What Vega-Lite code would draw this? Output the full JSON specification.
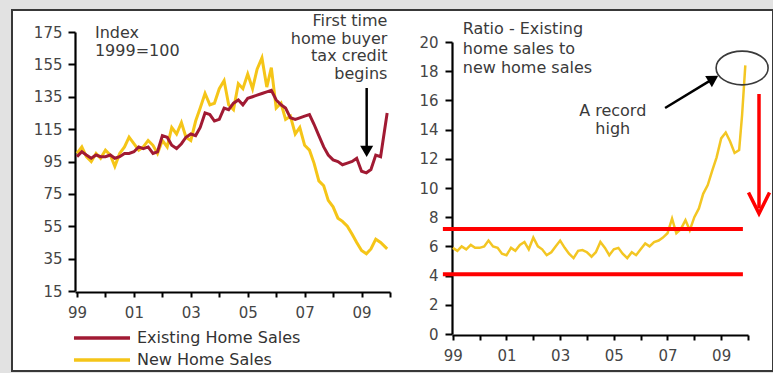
{
  "$schema": "https://vega.github.io/schema/vega-lite/v6.json",
  "width": 773,
  "height": 373,
  "autosize": {"type": "fit", "contains": "padding"},
  "padding": {"left": 12, "top": 10, "right": 0, "bottom": 2},
  "background": "#e2e2e2",
  "config": {
    "font": "DejaVu Sans",
    "view": {"stroke": "#383838", "strokeWidth": 2, "fill": "#ffffff"},
    "axis": {
      "domainColor": "#000000",
      "domainWidth": 2.2,
      "tickColor": "#000000",
      "tickWidth": 2,
      "labelColor": "#454545",
      "labelFontSize": 15,
      "labelFont": "DejaVu Sans",
      "grid": false,
      "labelFlush": false,
      "labelOverlap": false
    }
  },
  "datasets": {
    "index": [
      {"t": 1999.00, "s": "Existing Home Sales", "v": 98},
      {"t": 1999.17, "s": "Existing Home Sales", "v": 101},
      {"t": 1999.33, "s": "Existing Home Sales", "v": 99},
      {"t": 1999.50, "s": "Existing Home Sales", "v": 97},
      {"t": 1999.67, "s": "Existing Home Sales", "v": 99},
      {"t": 1999.83, "s": "Existing Home Sales", "v": 98},
      {"t": 2000.00, "s": "Existing Home Sales", "v": 98},
      {"t": 2000.17, "s": "Existing Home Sales", "v": 99},
      {"t": 2000.33, "s": "Existing Home Sales", "v": 97},
      {"t": 2000.50, "s": "Existing Home Sales", "v": 98},
      {"t": 2000.67, "s": "Existing Home Sales", "v": 100},
      {"t": 2000.83, "s": "Existing Home Sales", "v": 100},
      {"t": 2001.00, "s": "Existing Home Sales", "v": 101},
      {"t": 2001.17, "s": "Existing Home Sales", "v": 104},
      {"t": 2001.33, "s": "Existing Home Sales", "v": 103},
      {"t": 2001.50, "s": "Existing Home Sales", "v": 104},
      {"t": 2001.67, "s": "Existing Home Sales", "v": 100},
      {"t": 2001.83, "s": "Existing Home Sales", "v": 101},
      {"t": 2002.00, "s": "Existing Home Sales", "v": 111},
      {"t": 2002.17, "s": "Existing Home Sales", "v": 110},
      {"t": 2002.33, "s": "Existing Home Sales", "v": 105},
      {"t": 2002.50, "s": "Existing Home Sales", "v": 103},
      {"t": 2002.67, "s": "Existing Home Sales", "v": 106},
      {"t": 2002.83, "s": "Existing Home Sales", "v": 110},
      {"t": 2003.00, "s": "Existing Home Sales", "v": 112},
      {"t": 2003.17, "s": "Existing Home Sales", "v": 111},
      {"t": 2003.33, "s": "Existing Home Sales", "v": 116},
      {"t": 2003.50, "s": "Existing Home Sales", "v": 125},
      {"t": 2003.67, "s": "Existing Home Sales", "v": 124},
      {"t": 2003.83, "s": "Existing Home Sales", "v": 120},
      {"t": 2004.00, "s": "Existing Home Sales", "v": 121},
      {"t": 2004.17, "s": "Existing Home Sales", "v": 128},
      {"t": 2004.33, "s": "Existing Home Sales", "v": 127},
      {"t": 2004.50, "s": "Existing Home Sales", "v": 131},
      {"t": 2004.67, "s": "Existing Home Sales", "v": 133},
      {"t": 2004.83, "s": "Existing Home Sales", "v": 130},
      {"t": 2005.00, "s": "Existing Home Sales", "v": 134},
      {"t": 2005.17, "s": "Existing Home Sales", "v": 135},
      {"t": 2005.33, "s": "Existing Home Sales", "v": 136},
      {"t": 2005.50, "s": "Existing Home Sales", "v": 137},
      {"t": 2005.67, "s": "Existing Home Sales", "v": 138},
      {"t": 2005.83, "s": "Existing Home Sales", "v": 139},
      {"t": 2006.00, "s": "Existing Home Sales", "v": 133},
      {"t": 2006.17, "s": "Existing Home Sales", "v": 130},
      {"t": 2006.33, "s": "Existing Home Sales", "v": 128},
      {"t": 2006.50, "s": "Existing Home Sales", "v": 122},
      {"t": 2006.67, "s": "Existing Home Sales", "v": 121},
      {"t": 2006.83, "s": "Existing Home Sales", "v": 122},
      {"t": 2007.00, "s": "Existing Home Sales", "v": 123},
      {"t": 2007.17, "s": "Existing Home Sales", "v": 124},
      {"t": 2007.33, "s": "Existing Home Sales", "v": 118},
      {"t": 2007.50, "s": "Existing Home Sales", "v": 111},
      {"t": 2007.67, "s": "Existing Home Sales", "v": 104},
      {"t": 2007.83, "s": "Existing Home Sales", "v": 99},
      {"t": 2008.00, "s": "Existing Home Sales", "v": 96},
      {"t": 2008.17, "s": "Existing Home Sales", "v": 95},
      {"t": 2008.33, "s": "Existing Home Sales", "v": 93},
      {"t": 2008.50, "s": "Existing Home Sales", "v": 94},
      {"t": 2008.67, "s": "Existing Home Sales", "v": 95},
      {"t": 2008.83, "s": "Existing Home Sales", "v": 97},
      {"t": 2009.00, "s": "Existing Home Sales", "v": 89},
      {"t": 2009.17, "s": "Existing Home Sales", "v": 88},
      {"t": 2009.33, "s": "Existing Home Sales", "v": 90},
      {"t": 2009.50, "s": "Existing Home Sales", "v": 99},
      {"t": 2009.67, "s": "Existing Home Sales", "v": 98},
      {"t": 2009.90, "s": "Existing Home Sales", "v": 125},
      {"t": 1999.00, "s": "New Home Sales", "v": 100},
      {"t": 1999.17, "s": "New Home Sales", "v": 104},
      {"t": 1999.33, "s": "New Home Sales", "v": 98},
      {"t": 1999.50, "s": "New Home Sales", "v": 95},
      {"t": 1999.67, "s": "New Home Sales", "v": 100},
      {"t": 1999.83, "s": "New Home Sales", "v": 97},
      {"t": 2000.00, "s": "New Home Sales", "v": 102},
      {"t": 2000.17, "s": "New Home Sales", "v": 99},
      {"t": 2000.33, "s": "New Home Sales", "v": 92},
      {"t": 2000.50, "s": "New Home Sales", "v": 100},
      {"t": 2000.67, "s": "New Home Sales", "v": 104},
      {"t": 2000.83, "s": "New Home Sales", "v": 110},
      {"t": 2001.00, "s": "New Home Sales", "v": 106},
      {"t": 2001.17, "s": "New Home Sales", "v": 102},
      {"t": 2001.33, "s": "New Home Sales", "v": 104},
      {"t": 2001.50, "s": "New Home Sales", "v": 108},
      {"t": 2001.67, "s": "New Home Sales", "v": 105},
      {"t": 2001.83, "s": "New Home Sales", "v": 100},
      {"t": 2002.00, "s": "New Home Sales", "v": 108},
      {"t": 2002.17, "s": "New Home Sales", "v": 104},
      {"t": 2002.33, "s": "New Home Sales", "v": 116},
      {"t": 2002.50, "s": "New Home Sales", "v": 112},
      {"t": 2002.67, "s": "New Home Sales", "v": 119},
      {"t": 2002.83, "s": "New Home Sales", "v": 110},
      {"t": 2003.00, "s": "New Home Sales", "v": 108},
      {"t": 2003.17, "s": "New Home Sales", "v": 120},
      {"t": 2003.33, "s": "New Home Sales", "v": 128},
      {"t": 2003.50, "s": "New Home Sales", "v": 137},
      {"t": 2003.67, "s": "New Home Sales", "v": 130},
      {"t": 2003.83, "s": "New Home Sales", "v": 131},
      {"t": 2004.00, "s": "New Home Sales", "v": 140},
      {"t": 2004.17, "s": "New Home Sales", "v": 145},
      {"t": 2004.33, "s": "New Home Sales", "v": 130},
      {"t": 2004.50, "s": "New Home Sales", "v": 127},
      {"t": 2004.67, "s": "New Home Sales", "v": 143},
      {"t": 2004.83, "s": "New Home Sales", "v": 140},
      {"t": 2005.00, "s": "New Home Sales", "v": 149},
      {"t": 2005.17, "s": "New Home Sales", "v": 140},
      {"t": 2005.33, "s": "New Home Sales", "v": 152},
      {"t": 2005.50, "s": "New Home Sales", "v": 159},
      {"t": 2005.67, "s": "New Home Sales", "v": 141},
      {"t": 2005.83, "s": "New Home Sales", "v": 153},
      {"t": 2006.00, "s": "New Home Sales", "v": 128},
      {"t": 2006.17, "s": "New Home Sales", "v": 131},
      {"t": 2006.33, "s": "New Home Sales", "v": 121},
      {"t": 2006.50, "s": "New Home Sales", "v": 123},
      {"t": 2006.67, "s": "New Home Sales", "v": 112},
      {"t": 2006.83, "s": "New Home Sales", "v": 116},
      {"t": 2007.00, "s": "New Home Sales", "v": 105},
      {"t": 2007.17, "s": "New Home Sales", "v": 102},
      {"t": 2007.33, "s": "New Home Sales", "v": 94},
      {"t": 2007.50, "s": "New Home Sales", "v": 83},
      {"t": 2007.67, "s": "New Home Sales", "v": 80},
      {"t": 2007.83, "s": "New Home Sales", "v": 71},
      {"t": 2008.00, "s": "New Home Sales", "v": 67},
      {"t": 2008.17, "s": "New Home Sales", "v": 60},
      {"t": 2008.33, "s": "New Home Sales", "v": 58},
      {"t": 2008.50, "s": "New Home Sales", "v": 55},
      {"t": 2008.67, "s": "New Home Sales", "v": 50},
      {"t": 2008.83, "s": "New Home Sales", "v": 45},
      {"t": 2009.00, "s": "New Home Sales", "v": 40},
      {"t": 2009.17, "s": "New Home Sales", "v": 38},
      {"t": 2009.33, "s": "New Home Sales", "v": 41},
      {"t": 2009.50, "s": "New Home Sales", "v": 47},
      {"t": 2009.67, "s": "New Home Sales", "v": 45},
      {"t": 2009.90, "s": "New Home Sales", "v": 41}
    ],
    "ratio": [
      {"t": 1999.00, "v": 5.9}, {"t": 1999.17, "v": 5.7}, {"t": 1999.33, "v": 6.0},
      {"t": 1999.50, "v": 5.8}, {"t": 1999.67, "v": 6.1}, {"t": 1999.83, "v": 5.9},
      {"t": 2000.00, "v": 5.9}, {"t": 2000.17, "v": 6.0}, {"t": 2000.33, "v": 6.4},
      {"t": 2000.50, "v": 6.0}, {"t": 2000.67, "v": 5.9}, {"t": 2000.83, "v": 5.5},
      {"t": 2001.00, "v": 5.4}, {"t": 2001.17, "v": 5.9}, {"t": 2001.33, "v": 5.7},
      {"t": 2001.50, "v": 6.1}, {"t": 2001.67, "v": 6.3}, {"t": 2001.83, "v": 5.8},
      {"t": 2002.00, "v": 6.6}, {"t": 2002.17, "v": 6.0}, {"t": 2002.33, "v": 5.8},
      {"t": 2002.50, "v": 5.4}, {"t": 2002.67, "v": 5.6}, {"t": 2002.83, "v": 6.0},
      {"t": 2003.00, "v": 6.4}, {"t": 2003.17, "v": 5.9}, {"t": 2003.33, "v": 5.5},
      {"t": 2003.50, "v": 5.2}, {"t": 2003.67, "v": 5.7}, {"t": 2003.83, "v": 5.75},
      {"t": 2004.00, "v": 5.6}, {"t": 2004.17, "v": 5.3}, {"t": 2004.33, "v": 5.6},
      {"t": 2004.50, "v": 6.3}, {"t": 2004.67, "v": 5.9}, {"t": 2004.83, "v": 5.4},
      {"t": 2005.00, "v": 5.8}, {"t": 2005.17, "v": 5.9}, {"t": 2005.33, "v": 5.5},
      {"t": 2005.50, "v": 5.2}, {"t": 2005.67, "v": 5.6}, {"t": 2005.83, "v": 5.4},
      {"t": 2006.00, "v": 5.8}, {"t": 2006.17, "v": 6.2}, {"t": 2006.33, "v": 6.0},
      {"t": 2006.50, "v": 6.3}, {"t": 2006.67, "v": 6.4}, {"t": 2006.83, "v": 6.6},
      {"t": 2007.00, "v": 6.9}, {"t": 2007.17, "v": 7.9}, {"t": 2007.33, "v": 6.9},
      {"t": 2007.50, "v": 7.2}, {"t": 2007.67, "v": 7.8}, {"t": 2007.83, "v": 7.1},
      {"t": 2008.00, "v": 8.0}, {"t": 2008.17, "v": 8.6}, {"t": 2008.33, "v": 9.6},
      {"t": 2008.50, "v": 10.2}, {"t": 2008.67, "v": 11.2}, {"t": 2008.83, "v": 12.1},
      {"t": 2009.00, "v": 13.4}, {"t": 2009.17, "v": 13.8}, {"t": 2009.33, "v": 13.2},
      {"t": 2009.50, "v": 12.4}, {"t": 2009.67, "v": 12.6}, {"t": 2009.78, "v": 15.0},
      {"t": 2009.90, "v": 18.4}
    ]
  },
  "layer": [
    {
      "encoding": {
        "x": {
          "field": "t",
          "type": "quantitative",
          "scale": {"domain": [1998.93, 2010], "range": [63, 378], "nice": false, "zero": false},
          "axis": {
            "title": null,
            "orient": "bottom",
            "offset": -79,
            "values": [1999, 2000, 2001, 2002, 2003, 2004, 2005, 2006, 2007, 2008, 2009, 2010],
            "labelExpr": "datum.value % 2 == 1 ? substring(toString(datum.value), 2, 4) : ''",
            "tickSize": 5,
            "labelPadding": 8
          }
        },
        "y": {
          "field": "v",
          "type": "quantitative",
          "scale": {"domain": [15, 175], "range": [281, 22], "nice": false, "zero": false},
          "axis": {
            "title": null,
            "orient": "left",
            "offset": -63,
            "values": [15, 35, 55, 75, 95, 115, 135, 155, 175],
            "tickSize": 7,
            "labelPadding": 6
          }
        }
      },
      "layer": [
        {
          "data": {"name": "index"},
          "transform": [{"filter": "datum.s == 'New Home Sales'"}],
          "mark": {"type": "line", "strokeWidth": 3},
          "encoding": {
            "color": {
              "field": "s",
              "type": "nominal",
              "scale": {"domain": ["Existing Home Sales", "New Home Sales"], "range": ["#a11a33", "#f5c518"]},
              "legend": {
                "title": null,
                "orient": "none",
                "legendX": 78.5,
                "legendY": 316.5,
                "padding": 0,
                "symbolType": "M-2.95,0H2.95",
                "symbolSize": 361,
                "symbolStrokeWidth": 3.5,
                "labelFont": "DejaVu Sans",
                "labelFontSize": 16,
                "labelLimit": 400,
                "labelColor": "#333333",
                "labelOffset": 23.5,
                "rowPadding": 2
              }
            }
          }
        },
        {
          "data": {"name": "index"},
          "transform": [{"filter": "datum.s == 'Existing Home Sales'"}],
          "mark": {"type": "line", "strokeWidth": 3},
          "encoding": {
            "color": {
              "field": "s",
              "type": "nominal",
              "scale": {"domain": ["Existing Home Sales", "New Home Sales"], "range": ["#a11a33", "#f5c518"]}
            }
          }
        },
        {
          "data": {"values": [{"t": 1999.63, "v": 179.3, "label": "Index\n1999=100"}]},
          "mark": {"type": "text", "align": "left", "baseline": "top", "fontSize": 16, "lineHeight": 17.7, "lineBreak": "\n", "color": "#3a3a3a"},
          "encoding": {"text": {"field": "label"}}
        },
        {
          "data": {"values": [{"t": 2009.91, "v": 186.7, "label": "First time\nhome buyer\ntax credit\nbegins"}]},
          "mark": {"type": "text", "align": "right", "baseline": "top", "fontSize": 16, "lineHeight": 17.7, "lineBreak": "\n", "color": "#3a3a3a"},
          "encoding": {"text": {"field": "label"}}
        },
        {
          "data": {"values": [{"t": 2009.18, "v": 140.4, "v2": 103}]},
          "mark": {"type": "rule", "color": "#000000", "strokeWidth": 2.5},
          "encoding": {"y2": {"field": "v2"}}
        },
        {
          "data": {"values": [{"t": 2009.18, "v": 101.3}]},
          "mark": {"type": "point", "shape": "triangle-down", "filled": true, "color": "#000000", "opacity": 1, "size": 170},
          "encoding": {}
        }
      ]
    },
    {
      "encoding": {
        "x": {
          "field": "t",
          "type": "quantitative",
          "scale": {"domain": [1998.97, 2010], "range": [440, 736], "nice": false, "zero": false},
          "axis": {
            "title": null,
            "orient": "bottom",
            "offset": -36,
            "values": [1999, 2000, 2001, 2002, 2003, 2004, 2005, 2006, 2007, 2008, 2009, 2010],
            "labelExpr": "datum.value % 2 == 1 ? substring(toString(datum.value), 2, 4) : ''",
            "tickSize": 5,
            "labelPadding": 8
          }
        },
        "y": {
          "field": "v",
          "type": "quantitative",
          "scale": {"domain": [0, 20], "range": [324, 32], "nice": false, "zero": false},
          "axis": {
            "title": null,
            "orient": "left",
            "offset": -440,
            "values": [0, 2, 4, 6, 8, 10, 12, 14, 16, 18, 20],
            "tickSize": 7,
            "labelPadding": 7
          }
        }
      },
      "layer": [
        {
          "data": {"name": "ratio"},
          "mark": {"type": "line", "color": "#f3c623", "strokeWidth": 2.5},
          "encoding": {}
        },
        {
          "data": {"values": [
            {"t": 1998.63, "t2": 2009.81, "v": 7.2},
            {"t": 1998.63, "t2": 2009.81, "v": 4.1}
          ]},
          "mark": {"type": "rule", "color": "#ff0000", "strokeWidth": 4},
          "encoding": {"x2": {"field": "t2"}}
        },
        {
          "data": {"values": [{"t": 2010.41, "v": 16.44, "v2": 8.6}]},
          "mark": {"type": "rule", "color": "#ff0000", "strokeWidth": 3.5},
          "encoding": {"y2": {"field": "v2"}}
        },
        {
          "data": {"values": [{"t": 2010.41, "v": 8.97}]},
          "mark": {"type": "point", "shape": "M-1,-1L0,1L1,-1", "filled": false, "color": "#ff0000", "strokeWidth": 3.5, "opacity": 1, "size": 441},
          "encoding": {}
        },
        {
          "data": {"values": [{"t": 2009.78, "v": 18.22}]},
          "mark": {"type": "point", "shape": "M-1,0A1,0.65 0 1,1 1,0A1,0.65 0 1,1 -1,0Z", "filled": false, "color": "#3a3a3a", "strokeWidth": 1.6, "opacity": 1, "size": 2704},
          "encoding": {}
        },
        {
          "data": {"values": [{"t": 2006.91, "v": 15.48, "t2": 2008.71, "v2": 17.49}]},
          "mark": {"type": "rule", "color": "#000000", "strokeWidth": 2.5},
          "encoding": {"x2": {"field": "t2"}, "y2": {"field": "v2"}}
        },
        {
          "data": {"values": [{"t": 2008.71, "v": 17.49}]},
          "mark": {"type": "point", "shape": "triangle-up", "angle": 59, "filled": true, "color": "#000000", "opacity": 1, "size": 170},
          "encoding": {}
        },
        {
          "data": {"values": [{"t": 1999.37, "v": 21.42, "label": "Ratio - Existing\nhome sales to\nnew home sales"}]},
          "mark": {"type": "text", "align": "left", "baseline": "top", "fontSize": 16, "lineHeight": 19.5, "lineBreak": "\n", "color": "#3a3a3a"},
          "encoding": {"text": {"field": "label"}}
        },
        {
          "data": {"values": [{"t": 2004.96, "v": 15.8, "label": "A record\nhigh"}]},
          "mark": {"type": "text", "align": "center", "baseline": "top", "fontSize": 16, "lineHeight": 17.7, "lineBreak": "\n", "color": "#3a3a3a"},
          "encoding": {"text": {"field": "label"}}
        }
      ]
    }
  ],
  "resolve": {"scale": {"x": "independent", "y": "independent"}}
}
